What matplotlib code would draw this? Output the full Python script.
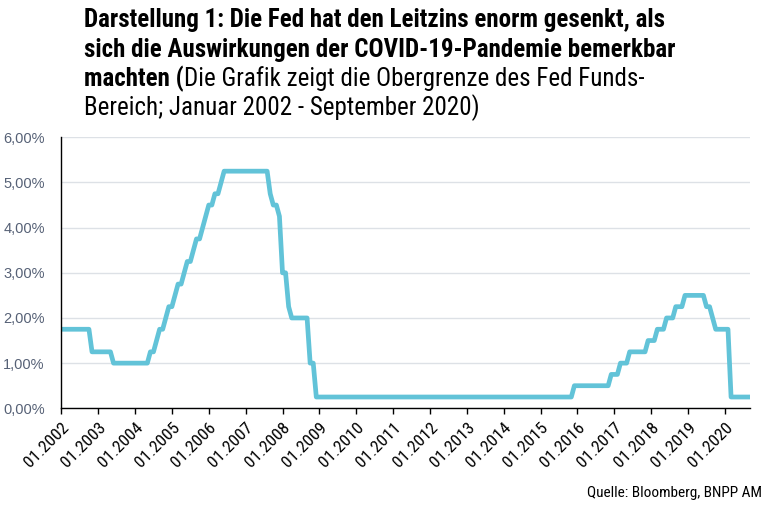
import matplotlib
matplotlib.use('Agg')
import matplotlib.pyplot as plt

# Obergrenze Fed Funds, Monatsendwerte, 01.2002 - 09.2020 (in %)
rate = [
    1.75, 1.75, 1.75, 1.75, 1.75, 1.75, 1.75, 1.75, 1.75, 1.75, 1.25, 1.25,  # 2002
    1.25, 1.25, 1.25, 1.25, 1.25, 1.00, 1.00, 1.00, 1.00, 1.00, 1.00, 1.00,  # 2003
    1.00, 1.00, 1.00, 1.00, 1.00, 1.25, 1.25, 1.50, 1.75, 1.75, 2.00, 2.25,  # 2004
    2.25, 2.50, 2.75, 2.75, 3.00, 3.25, 3.25, 3.50, 3.75, 3.75, 4.00, 4.25,  # 2005
    4.50, 4.50, 4.75, 4.75, 5.00, 5.25, 5.25, 5.25, 5.25, 5.25, 5.25, 5.25,  # 2006
    5.25, 5.25, 5.25, 5.25, 5.25, 5.25, 5.25, 5.25, 4.75, 4.50, 4.50, 4.25,  # 2007
    3.00, 3.00, 2.25, 2.00, 2.00, 2.00, 2.00, 2.00, 2.00, 1.00, 1.00, 0.25,  # 2008
    0.25, 0.25, 0.25, 0.25, 0.25, 0.25, 0.25, 0.25, 0.25, 0.25, 0.25, 0.25,  # 2009
    0.25, 0.25, 0.25, 0.25, 0.25, 0.25, 0.25, 0.25, 0.25, 0.25, 0.25, 0.25,  # 2010
    0.25, 0.25, 0.25, 0.25, 0.25, 0.25, 0.25, 0.25, 0.25, 0.25, 0.25, 0.25,  # 2011
    0.25, 0.25, 0.25, 0.25, 0.25, 0.25, 0.25, 0.25, 0.25, 0.25, 0.25, 0.25,  # 2012
    0.25, 0.25, 0.25, 0.25, 0.25, 0.25, 0.25, 0.25, 0.25, 0.25, 0.25, 0.25,  # 2013
    0.25, 0.25, 0.25, 0.25, 0.25, 0.25, 0.25, 0.25, 0.25, 0.25, 0.25, 0.25,  # 2014
    0.25, 0.25, 0.25, 0.25, 0.25, 0.25, 0.25, 0.25, 0.25, 0.25, 0.25, 0.50,  # 2015
    0.50, 0.50, 0.50, 0.50, 0.50, 0.50, 0.50, 0.50, 0.50, 0.50, 0.50, 0.75,  # 2016
    0.75, 0.75, 1.00, 1.00, 1.00, 1.25, 1.25, 1.25, 1.25, 1.25, 1.25, 1.50,  # 2017
    1.50, 1.50, 1.75, 1.75, 1.75, 2.00, 2.00, 2.00, 2.25, 2.25, 2.25, 2.50,  # 2018
    2.50, 2.50, 2.50, 2.50, 2.50, 2.50, 2.25, 2.25, 2.00, 1.75, 1.75, 1.75,  # 2019
    1.75, 1.75, 0.25, 0.25, 0.25, 0.25, 0.25, 0.25, 0.25,                    # 2020
]
years = list(range(2002, 2021))
tick_labels = ['01.%d' % y for y in years]
y_ticks = [0, 1, 2, 3, 4, 5, 6]
y_labels = ['%d,00%%' % v for v in y_ticks]

title_bold = ['Darstellung 1: Die Fed hat den Leitzins enorm gesenkt, als',
              'sich die Auswirkungen der COVID-19-Pandemie bemerkbar',
              'machten (']
title_rest = ['Die Grafik zeigt die Obergrenze des Fed Funds-',
              'Bereich; Januar 2002 - September 2020)']
source = 'Quelle: Bloomberg, BNPP AM'

narrow = ['Roboto Condensed', 'DejaVu Sans']
W, H = 777, 509

fig = plt.figure(figsize=(W / 100, H / 100), dpi=100)
ax = fig.add_axes([61.3 / W, 100.7 / H, (749.5 - 61.3) / W, (408.3 - 137.3) / H])

x = list(range(len(rate)))
ax.plot(x, rate, color='#62c3d8', lw=3.4, solid_joinstyle='round', zorder=3)

ax.set_xlim(0, len(rate) - 1)
ax.set_ylim(0, 6)
ax.set_yticks(y_ticks)
ax.set_yticklabels(y_labels, family=['Liberation Sans', 'DejaVu Sans'],
                   fontsize=10.5, color='#566176')
ax.set_xticks([12 * i for i in range(len(years))])
ax.set_xticklabels(tick_labels, rotation=45, ha='right', rotation_mode='anchor',
                   family=narrow, fontsize=12.5)
ax.tick_params(axis='y', length=0, pad=12)
ax.tick_params(axis='x', length=4, width=1, color='black', pad=4)
ax.grid(axis='y', color='#dde1e6', lw=1)
ax.set_axisbelow(True)
for s in ['top', 'right']:
    ax.spines[s].set_visible(False)
for s in ['left', 'bottom']:
    ax.spines[s].set_color('black')
    ax.spines[s].set_linewidth(1)
    ax.spines[s].set_zorder(4)

# Titel: fett + normal gemischt
x0 = 84 / W
baselines = [27, 56.5, 86, 115.5]
tsize = 18
for i, line in enumerate(title_bold):
    t = fig.text(x0, 1 - baselines[i] / H, line, family=narrow, weight='bold',
                 fontsize=tsize, va='baseline', ha='left')
fig.canvas.draw()
bb = t.get_window_extent(renderer=fig.canvas.get_renderer())
fig.text(bb.x1 / W, 1 - baselines[2] / H, title_rest[0], family=narrow,
         fontsize=tsize, va='baseline', ha='left')
fig.text(x0, 1 - baselines[3] / H, title_rest[1], family=narrow,
         fontsize=tsize, va='baseline', ha='left')

fig.text(762 / W, 1 - 497 / H, source, family=narrow, fontsize=11,
         ha='right', va='baseline')

fig.savefig('out.png', dpi=100)
